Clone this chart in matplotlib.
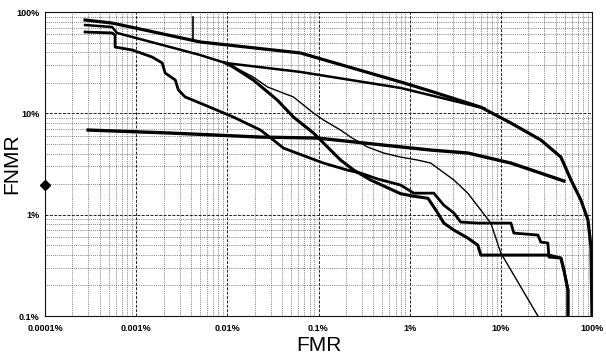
import matplotlib
matplotlib.use("Agg")
import matplotlib.pyplot as plt
from matplotlib.ticker import LogLocator, NullFormatter, FixedLocator

plt.rcParams['font.family'] = ['Liberation Sans', 'DejaVu Sans']

# ---- data (percent units) ----
x_ticks = [0.0001, 0.001, 0.01, 0.1, 1, 10, 100]
x_labels = ["0.0001%", "0.001%", "0.01%", "0.1%", "1%", "10%", "100%"]
y_ticks = [0.1, 1, 10, 100]
y_labels = ["0.1%", "1%", "10%", "100%"]

a_fmr = [0.000275, 0.000544, 0.00505, 0.0634, 0.796, 1.84, 6.03, 12.9, 27.5, 45.6, 58.8, 75.7, 90.3, 97.5, 100]
a_fnmr = [83.4, 77.8, 50.6, 39.4, 20.4, 16.2, 11.5, 8.02, 5.45, 3.70, 2.20, 1.39, 0.885, 0.479, 0.1]

b_fmr = [0.000275, 0.000544, 0.000618, 0.00505, 0.00951, 0.0634, 0.796, 6.6]
b_fnmr = [74.4, 71.1, 62.1, 37.6, 31.4, 25.6, 17.8, 11.2]

c_fmr = [0.000297, 0.002366, 0.0231, 0.0975, 0.518, 1.70, 4.34, 12.9, 49.2]
c_fnmr = [6.84, 6.39, 5.83, 5.70, 4.86, 4.34, 4.06, 3.23, 2.15]

d_fmr = [0.000275, 0.000544, 0.000587, 0.000587, 0.000904, 0.00150, 0.00193, 0.00208, 0.00269,
         0.00290, 0.00345, 0.00505, 0.01164, 0.0231, 0.0320, 0.0412, 0.0757, 0.1135, 0.2085,
         0.290, 0.445, 0.796, 1.11, 1.84, 2.37, 3.05, 3.63, 5.58, 12.9, 13.9, 25.5, 27.5, 32.8,
         33.7, 45.6, 49.2, 54.5, 54.5]
d_fnmr = [63.5, 62.1, 59.3, 45.1, 42.2, 35.9, 31.4, 25.0, 21.3,
          17.0, 14.5, 12.6, 9.19, 6.84, 5.45, 4.54, 3.70, 3.23, 2.75,
          2.57, 2.25, 1.96, 1.63, 1.63, 1.24, 1.04, 0.845, 0.826, 0.826, 0.658, 0.629, 0.536, 0.525,
          0.381, 0.373, 0.284, 0.180, 0.1]

e_fmr = [0.00951, 0.01079, 0.0193, 0.02754, 0.0531, 0.0881, 0.1135, 0.1746, 0.225, 0.345, 0.518,
         0.796, 1.22, 1.70, 3.05, 4.34, 6.03, 7.76, 10.0, 25.5]
e_fnmr = [31.4, 30.0, 22.8, 18.2, 14.5, 10.07, 8.59, 6.84, 5.83, 4.65, 4.06,
          3.70, 3.46, 3.23, 2.20, 1.63, 1.11, 0.826, 0.418, 0.1]

f_fmr = [0.00951, 0.01164, 0.0193, 0.0354, 0.0531, 0.0881, 0.1256, 0.1746, 0.2427, 0.3724, 0.796,
         1.11, 1.59, 2.03, 2.37, 3.05, 4.34, 5.58, 6.03, 33.7, 45.6, 49.2, 54.5, 54.5]
f_fnmr = [31.4, 28.6, 21.3, 13.5, 9.19, 6.39, 4.65, 3.46, 2.76, 2.20, 1.61,
          1.52, 1.45, 1.04, 0.826, 0.705, 0.588, 0.501, 0.399, 0.399, 0.373, 0.284, 0.180, 0.1]

g_fmr = [0.00423, 0.00423]
g_fnmr = [89.0, 52.0]

marker_fmr = [0.0001]
marker_fnmr = [1.96]

# ---- figure ----
fig = plt.figure(figsize=(6.06, 3.61), dpi=100)
ax = fig.add_axes([45/606, 1-316/361, (592-45)/606, (316-12)/361])
ax.set_xscale('log')
ax.set_yscale('log')
ax.set_xlim(0.0001, 100)
ax.set_ylim(0.1, 100)

ax.xaxis.set_major_locator(FixedLocator(x_ticks))
ax.yaxis.set_major_locator(FixedLocator(y_ticks))
ax.set_xticklabels(x_labels)
ax.set_yticklabels(y_labels)
ax.xaxis.set_minor_locator(LogLocator(base=10, subs=range(2, 10), numticks=20))
ax.yaxis.set_minor_locator(LogLocator(base=10, subs=range(2, 10), numticks=20))
ax.xaxis.set_minor_formatter(NullFormatter())
ax.yaxis.set_minor_formatter(NullFormatter())
ax.tick_params(which='both', length=0)
ax.tick_params(axis='x', labelsize=6.5, pad=6)
ax.tick_params(axis='y', labelsize=6.5, pad=4)
for lab in ax.get_xticklabels() + ax.get_yticklabels():
    lab.set_fontweight('bold')

ax.grid(True, which='major', color='#222222', linestyle=(0, (3, 1.5)), linewidth=0.7)
ax.grid(True, which='minor', color='#444444', linestyle=(0, (1, 1.5)), linewidth=0.55)
ax.set_axisbelow(True)
for s in ax.spines.values():
    s.set_linewidth(0.8)
    s.set_color('#111111')

k = '#000000'
ax.plot(a_fmr, a_fnmr, color=k, lw=2.3, solid_joinstyle='round')
ax.plot(b_fmr, b_fnmr, color=k, lw=1.8)
ax.plot(c_fmr, c_fnmr, color=k, lw=2.4)
ax.plot(d_fmr, d_fnmr, color=k, lw=2.0)
ax.plot(e_fmr, e_fnmr, color=k, lw=1.0)
ax.plot(f_fmr, f_fnmr, color=k, lw=2.2)
ax.plot(g_fmr, g_fnmr, color=k, lw=1.2)
ax.plot(marker_fmr, marker_fnmr, marker='D', color=k, markersize=5, clip_on=False, zorder=5)

ax.set_xlabel('FMR', fontsize=15, labelpad=2)
ax.set_ylabel('FNMR', fontsize=15)
ax.yaxis.set_label_coords(-0.044, 0.5)

fig.savefig('out.png', dpi=100)
